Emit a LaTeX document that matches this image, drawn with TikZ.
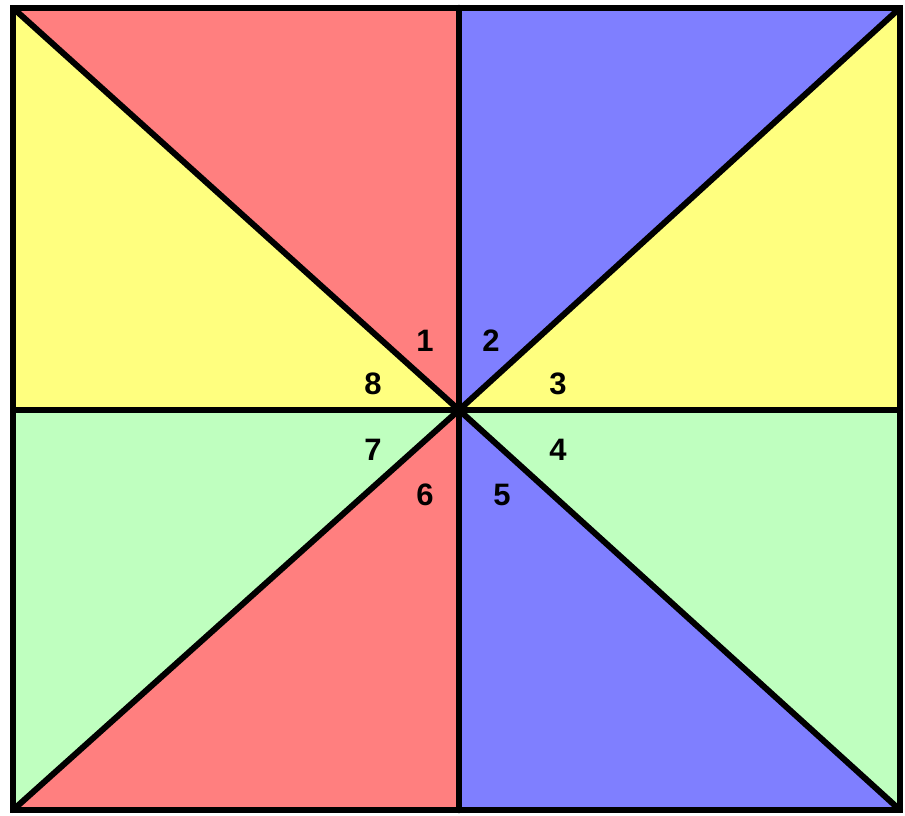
\documentclass[tikz,border=0pt]{standalone}
\usepackage{fontspec}
\setmainfont{Liberation Sans}
\definecolor{cred}{HTML}{FF7F7F}
\definecolor{cblue}{HTML}{7F7FFF}
\definecolor{cyellow}{HTML}{FFFF7F}
\definecolor{cgreen}{HTML}{BFFFBF}
\begin{document}
\begin{tikzpicture}[x=1pt,y=-1pt,
  edge/.style={line width=6pt, line cap=round, line join=round},
  num/.style={font=\fontsize{31}{31}\selectfont\bfseries, inner sep=0pt}]
\useasboundingbox (0,0) rectangle (905,815);
\coordinate (TL) at (13,8);
\coordinate (TM) at (459,8);
\coordinate (TR) at (900,8);
\coordinate (ML) at (13,410);
\coordinate (C)  at (459,410);
\coordinate (MR) at (900,410);
\coordinate (BL) at (13,810);
\coordinate (BM) at (459,810);
\coordinate (BR) at (900,810);
\fill[cred] (TL) -- (TM) -- (C) -- cycle;
\fill[cblue] (TM) -- (TR) -- (C) -- cycle;
\fill[cyellow] (TR) -- (MR) -- (C) -- cycle;
\fill[cgreen] (MR) -- (BR) -- (C) -- cycle;
\fill[cblue] (BR) -- (BM) -- (C) -- cycle;
\fill[cred] (BM) -- (BL) -- (C) -- cycle;
\fill[cgreen] (BL) -- (ML) -- (C) -- cycle;
\fill[cyellow] (ML) -- (TL) -- (C) -- cycle;
\draw[edge] (TL) -- (C);
\draw[edge] (TR) -- (C);
\draw[edge] (BL) -- (C);
\draw[edge] (BR) -- (C);
\draw[edge] (ML) -- (MR);
\draw[edge, line width=6.5pt] (TM) -- (BM);
\draw[edge, line cap=butt, line join=miter] (TL) rectangle (BR);
\node[num] (n1) at (425,341) {1};
\node[num] (n2) at (491,341) {2};
\node[num] (n3) at (558,384) {3};
\node[num] (n4) at (558,450) {4};
\node[num] (n5) at (502,495) {5};
\node[num] (n6) at (425,495) {6};
\node[num] (n7) at (373,450) {7};
\node[num] (n8) at (373,384) {8};
\end{tikzpicture}
\end{document}
